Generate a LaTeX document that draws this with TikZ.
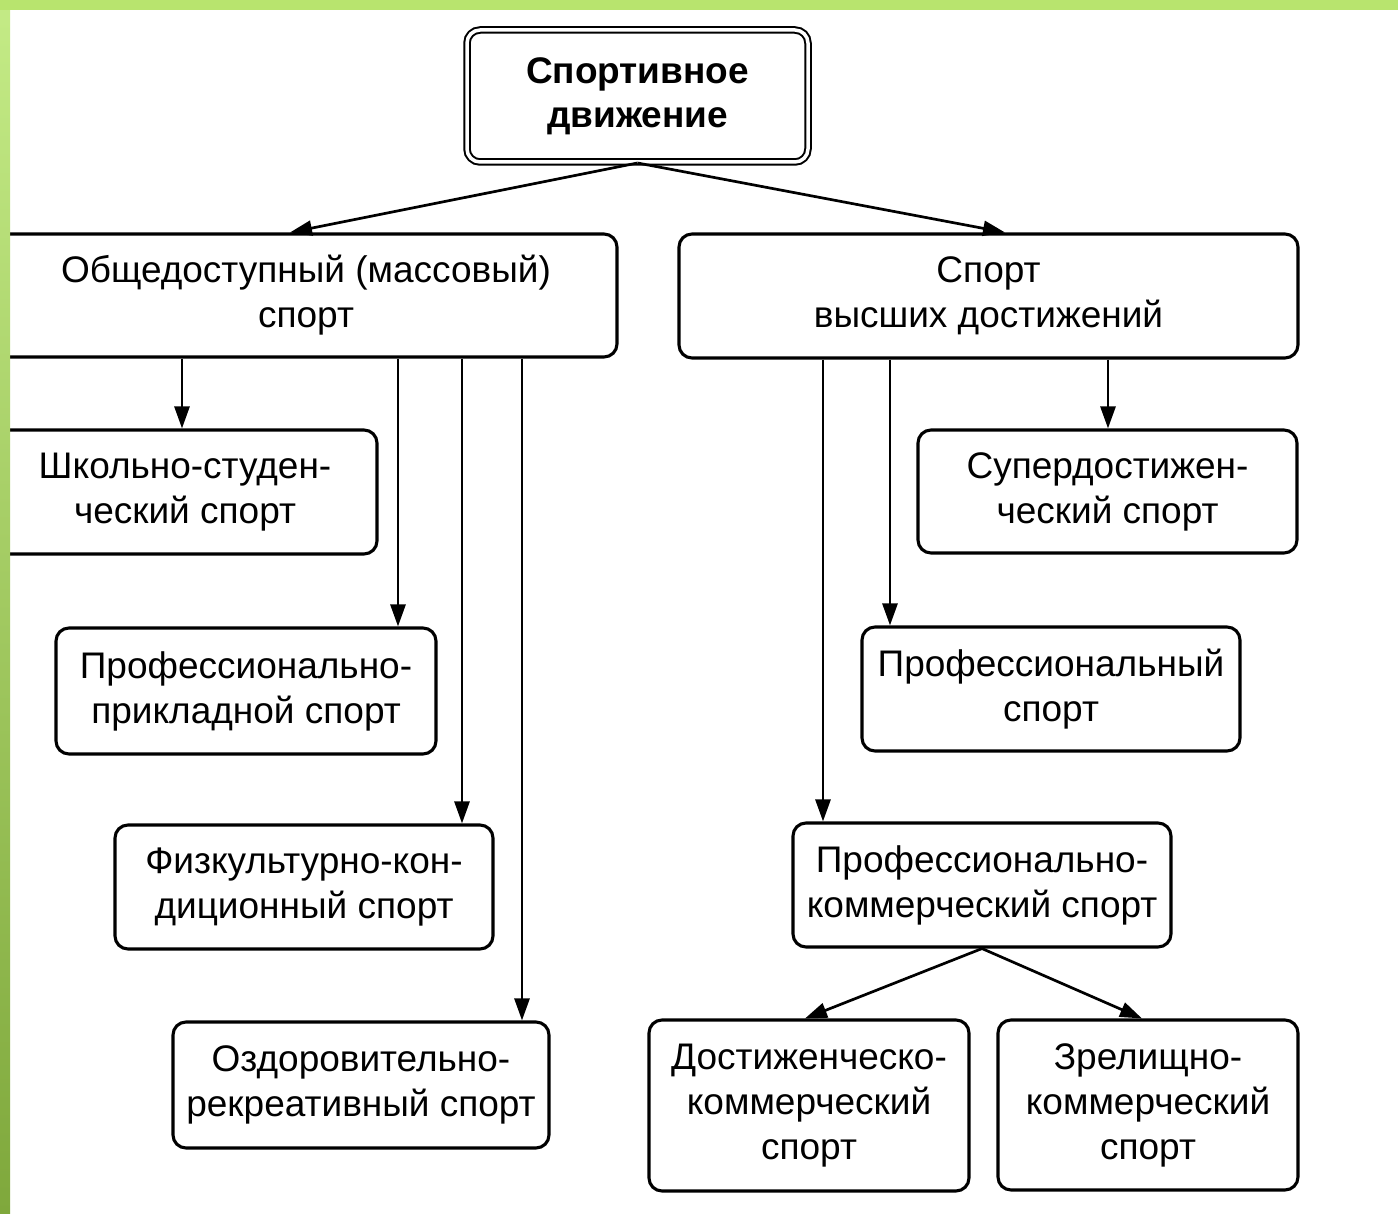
\documentclass[tikz,border=0pt]{standalone}
\usepackage{fontspec}
\setmainfont{Liberation Sans}
\usetikzlibrary{arrows.meta,calc}
\definecolor{topgreen}{HTML}{B8E46E}
\definecolor{lgreenA}{HTML}{C4EB86}
\definecolor{lgreenB}{HTML}{7FA83C}
\begin{document}
\begin{tikzpicture}[x=1pt,y=-1pt,
  box/.style={draw,line width=3.1pt,rounded corners=13pt,align=center,inner sep=0pt,
    font=\fontsize{37}{45}\selectfont},
  arr/.style={line width=2.7pt,-{Triangle[length=22pt,width=15pt]}}]
\useasboundingbox (0,0) rectangle (1398,1214);
\fill[white] (0,0) rectangle (1398,1214);

% nodes
\node[box,minimum width=341pt,minimum height=132pt,double,double distance=3.5pt,line width=2pt,
  font=\bfseries\fontsize{37}{44}\selectfont] (top) at (637.5,96) {Спортивное\\движение};
\node[box,minimum width=622pt,minimum height=123pt] (ms) at (306,295.5) {Общедоступный (массовый)\\спорт};
\node[box,minimum width=619pt,minimum height=124pt] (hs) at (988.5,296) {Спорт\\высших достижений};
\node[box,minimum width=384pt,minimum height=124pt] (ss) at (185,492) {Школьно-студен-\\ческий спорт};
\node[box,minimum width=380pt,minimum height=126pt] (pp) at (246,691) {Профессионально-\\прикладной спорт};
\node[box,minimum width=378pt,minimum height=124pt] (fk) at (304,887) {Физкультурно-кон-\\диционный спорт};
\node[box,minimum width=376pt,minimum height=126pt] (oz) at (361,1085) {Оздоровительно-\\рекреативный спорт};
\node[box,minimum width=379pt,minimum height=123pt] (sd) at (1107.5,491.5) {Супердостижен-\\ческий спорт};
\node[box,minimum width=378pt,minimum height=124pt] (pf) at (1051,689) {Профессиональный\\спорт};
\node[box,minimum width=378pt,minimum height=124pt] (pk) at (982,885) {Профессионально-\\коммерческий спорт};
\node[box,minimum width=320pt,minimum height=171pt] (dk) at (809,1105.5) {Достиженческо-\\коммерческий\\спорт};
\node[box,minimum width=300pt,minimum height=170pt] (zk) at (1148,1105) {Зрелищно-\\коммерческий\\спорт};

% x positions of connectors
\coordinate (a1) at (290,0);
\coordinate (a2) at (1005,0);
\coordinate (b1) at (182,0);
\coordinate (b2) at (398,0);
\coordinate (b3) at (462,0);
\coordinate (b4) at (522,0);
\coordinate (c1) at (823,0);
\coordinate (c2) at (890,0);
\coordinate (c3) at (1108,0);
\coordinate (d1) at (805,0);
\coordinate (d2) at (1142,0);

% connectors
\draw[arr] (top.south) -- (ms.north -| a1);
\draw[arr] (top.south) -- (hs.north -| a2);
\draw[arr] (ms.south -| b1) -- (ss.north -| b1);
\draw[arr] (ms.south -| b2) -- (pp.north -| b2);
\draw[arr] (ms.south -| b3) -- (fk.north -| b3);
\draw[arr] (ms.south -| b4) -- (oz.north -| b4);
\draw[arr] (hs.south -| c1) -- (pk.north -| c1);
\draw[arr] (hs.south -| c2) -- (pf.north -| c2);
\draw[arr] (hs.south -| c3) -- (sd.north -| c3);
\draw[arr] (pk.south) -- (dk.north -| d1);
\draw[arr] (pk.south) -- (zk.north -| d2);

% green frame strips
\shade[top color=lgreenA,bottom color=lgreenB] (0,0) rectangle (10,1214);
\fill[topgreen] (0,0) rectangle (1398,10);
\end{tikzpicture}
\end{document}
